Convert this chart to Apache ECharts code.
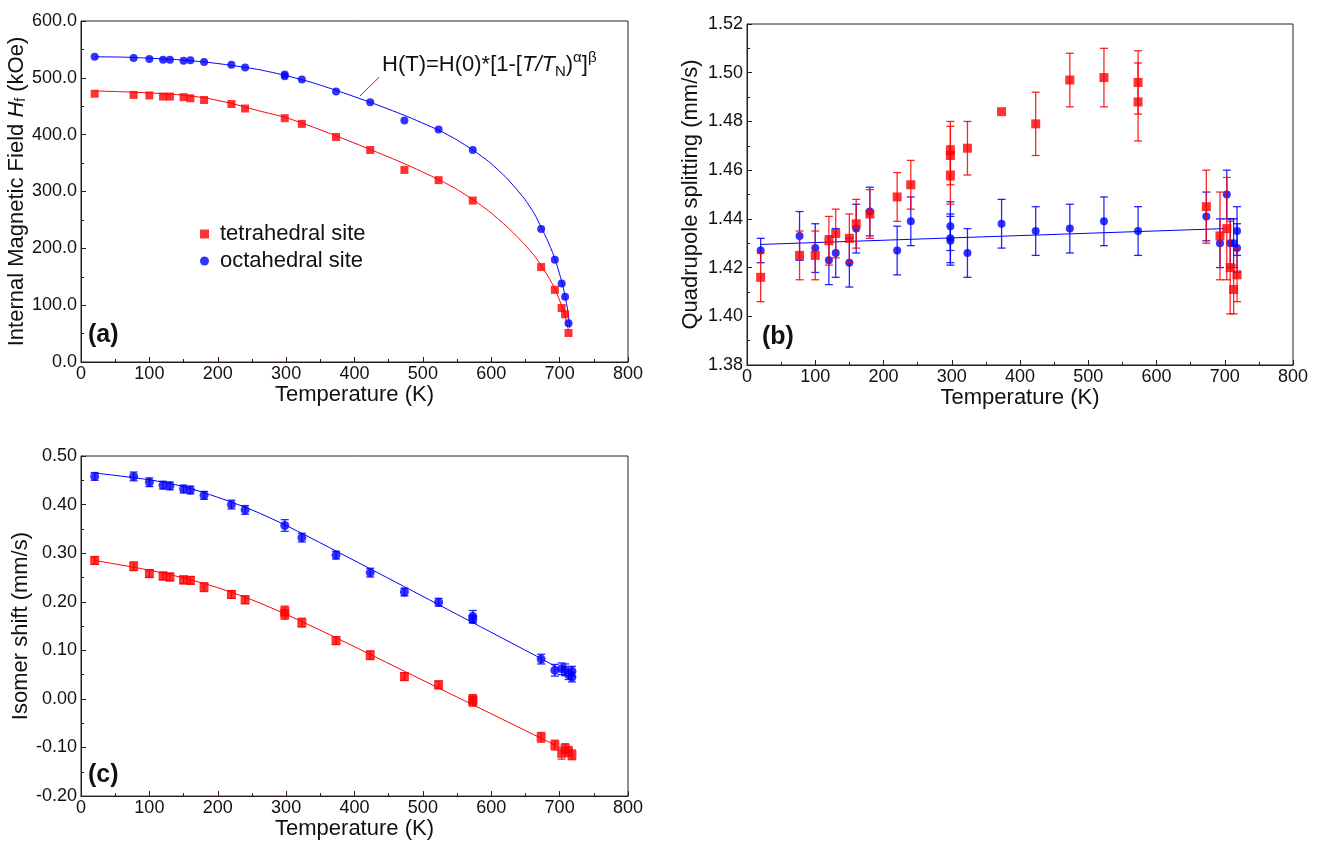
<!DOCTYPE html>
<html>
<head>
<meta charset="utf-8">
<script src="https://cdn.jsdelivr.net/npm/echarts@6.0.0/dist/echarts.min.js"></script>
<style>
  html, body { margin: 0; padding: 0; background: #fff; }
  #chart { width: 1318px; height: 841px; }
</style>
</head>
<body>
<div id="chart"></div>
<script>
// ---------- (a) internal magnetic field vs temperature (kOe) ----------
const hfTempTet = [20, 77, 100, 120, 130, 150, 160, 180, 220, 240, 298, 323, 373, 423, 473, 523, 573, 673, 693, 703, 708, 713];
const hfTet     = [472, 470, 469, 467, 467, 466, 464, 461, 454, 446, 429, 419, 396, 373, 338, 320, 284, 167, 127, 95, 84, 51];
const hfTempOct = [20, 77, 100, 120, 130, 150, 160, 180, 220, 240, 298, 298, 323, 373, 423, 473, 523, 573, 673, 693, 703, 708, 713];
const hfOct     = [537, 535, 533, 532, 532, 530, 531, 528, 523, 518, 503, 506, 497, 476, 457, 425, 409, 373, 234, 180, 138, 115, 68];

// fitted H(T) curves
const hfFitTempTet = [20, 60, 100, 140, 180, 220, 260, 300, 340, 373, 423, 473, 523, 548, 573, 598, 623, 648, 663, 673, 683, 693, 703, 708, 713];
const hfFitTet     = [477, 475.5, 473.5, 470.5, 465, 455, 442, 430, 413, 398, 374, 349, 321, 305, 286, 264, 238, 208, 187, 170, 151, 129, 99, 81, 56];
const hfFitTempOct = [20, 60, 100, 140, 180, 220, 260, 300, 340, 373, 423, 473, 523, 548, 573, 598, 623, 648, 663, 673, 683, 693, 703, 708, 712, 715];
const hfFitOct     = [537, 536.5, 534.5, 532, 528, 522, 514.5, 504, 491, 478, 457, 434, 408, 392, 373, 351, 323, 288, 261, 237, 212, 182, 142, 116, 90, 60];

// ---------- (b) quadrupole splitting (mm/s) with errors ----------
const qsTempTet = [20, 77, 100, 120, 130, 150, 160, 180, 220, 240, 298, 298, 298, 323, 373, 423, 473, 523, 573, 573, 673, 693, 703, 708, 713, 718];
const qsTet     = [1.416, 1.425, 1.425, 1.431, 1.434, 1.432, 1.438, 1.442, 1.449, 1.454, 1.458, 1.466, 1.468, 1.469, 1.484, 1.479, 1.497, 1.498, 1.496, 1.488, 1.445, 1.433, 1.436, 1.420, 1.411, 1.417];
const qsTetErr  = [0.010, 0.010, 0.010, 0.010, 0.010, 0.010, 0.010, 0.010, 0.010, 0.010, 0.012, 0.012, 0.012, 0.011, 0, 0.013, 0.011, 0.012, 0.013, 0.016, 0.015, 0.018, 0.021, 0.019, 0.010, 0.011];
const qsTempOct = [20, 77, 100, 120, 130, 150, 160, 180, 220, 240, 298, 298, 298, 323, 373, 423, 473, 523, 573, 673, 693, 703, 708, 713, 718, 718];
const qsOct     = [1.427, 1.433, 1.428, 1.423, 1.426, 1.422, 1.436, 1.443, 1.427, 1.439, 1.437, 1.432, 1.431, 1.426, 1.438, 1.435, 1.436, 1.439, 1.435, 1.441, 1.430, 1.450, 1.430, 1.430, 1.435, 1.428];
const qsOctErr  = [0.005, 0.010, 0.010, 0.010, 0.010, 0.010, 0.010, 0.010, 0.010, 0.010, 0.010, 0.010, 0.010, 0.010, 0.010, 0.010, 0.010, 0.010, 0.010, 0.010, 0.010, 0.010, 0.010, 0.010, 0.010, 0.010];
// linear fit of the octahedral splitting
const qsFitTempOct = [20, 700];
const qsFitOct     = [1.4295, 1.436];

// ---------- (c) isomer shift (mm/s) with errors ----------
const isTempTet = [20, 77, 100, 120, 130, 150, 160, 180, 220, 240, 298, 298, 323, 373, 423, 473, 523, 573, 573, 673, 693, 703, 708, 713, 718];
const isTet     = [0.285, 0.273, 0.258, 0.253, 0.251, 0.245, 0.244, 0.230, 0.215, 0.204, 0.181, 0.174, 0.157, 0.120, 0.090, 0.046, 0.029, -0.005, -0.001, -0.079, -0.095, -0.112, -0.102, -0.108, -0.115];
const isTetErr  = [0.008, 0.009, 0.008, 0.008, 0.008, 0.008, 0.008, 0.009, 0.008, 0.008, 0.010, 0.010, 0.009, 0.008, 0.009, 0.008, 0.008, 0.010, 0.010, 0.010, 0.010, 0.012, 0.010, 0.010, 0.010];
const isTempOct = [20, 77, 100, 120, 130, 150, 160, 180, 220, 240, 298, 323, 373, 423, 473, 523, 573, 573, 673, 693, 703, 708, 713, 718, 718];
const isOct     = [0.458, 0.458, 0.446, 0.440, 0.4385, 0.432, 0.430, 0.419, 0.400, 0.389, 0.357, 0.332, 0.296, 0.260, 0.220, 0.199, 0.170, 0.164, 0.082, 0.059, 0.062, 0.060, 0.050, 0.057, 0.045];
const isOctErr  = [0.008, 0.009, 0.009, 0.008, 0.008, 0.008, 0.008, 0.008, 0.009, 0.009, 0.012, 0.009, 0.008, 0.009, 0.008, 0.008, 0.012, 0.008, 0.010, 0.012, 0.012, 0.012, 0.010, 0.010, 0.010];
// fitted isomer shift curves
const isFitTemp = [20, 100, 150, 200, 250, 300, 364, 473, 573, 673, 695];
const isFitTet  = [0.285, 0.265, 0.249, 0.229, 0.204, 0.174, 0.132, 0.057, -0.012, -0.081, -0.096];
const isFitOct  = [0.465, 0.451, 0.437, 0.415, 0.389, 0.357, 0.311, 0.231, 0.157, 0.083, 0.066];

// axis ranges
const tempRange = { min: 0, max: 800, step: 100 };
const hfRange   = { min: 0, max: 600, step: 100 };
const qsRange   = { min: 1.38, max: 1.52, step: 0.02 };
const isRange   = { min: -0.2, max: 0.5, step: 0.1 };

const RED = '#ff0000';
const BLUE = '#0000ff';
const FONT = "'Liberation Sans', Arial, Helvetica, sans-serif";
const INK = '#111';

const zip = (xs, ys) => xs.map((x, i) => [x, ys[i]]);
const zip3 = (xs, ys, es) => xs.map((x, i) => [x, ys[i], es[i]]);

function errorBar(params, api) {
  const x = api.value(0), y = api.value(1), e = api.value(2);
  if (!e) return null;
  const hi = api.coord([x, y + e]);
  const lo = api.coord([x, y - e]);
  const cap = 4;
  const style = { stroke: api.visual('color'), lineWidth: 1.3, opacity: 0.85 };
  return {
    type: 'group',
    children: [
      { type: 'line', shape: { x1: hi[0], y1: hi[1], x2: lo[0], y2: lo[1] }, style },
      { type: 'line', shape: { x1: hi[0] - cap, y1: hi[1], x2: hi[0] + cap, y2: hi[1] }, style },
      { type: 'line', shape: { x1: lo[0] - cap, y1: lo[1], x2: lo[0] + cap, y2: lo[1] }, style }
    ]
  };
}

function xAxisFor(gridIndex) {
  return {
    type: 'value', gridIndex,
    min: tempRange.min, max: tempRange.max, interval: tempRange.step,
    name: 'Temperature (K)', nameLocation: 'middle', nameGap: 21,
    nameTextStyle: { fontFamily: FONT, fontSize: 22, color: INK },
    axisLine: { onZero: false, lineStyle: { color: '#2b1b17', width: 1 } },
    axisTick: { inside: true, length: 5, lineStyle: { color: '#2b1b17' } },
    minorTick: { show: true, splitNumber: 2, length: 3, lineStyle: { color: '#2b1b17' } },
    axisLabel: { fontFamily: FONT, fontSize: 18, color: INK, margin: 3 },
    splitLine: { show: false }
  };
}

function yAxisFor(gridIndex, range, decimals, name, gap, rich) {
  return {
    type: 'value', gridIndex,
    min: range.min, max: range.max, interval: range.step,
    name, nameLocation: 'middle', nameGap: gap,
    nameTextStyle: { fontFamily: FONT, fontSize: 22, color: INK, rich: rich || {} },
    axisLine: { onZero: false, lineStyle: { color: '#2b1b17', width: 1 } },
    axisTick: { inside: true, length: 5, lineStyle: { color: '#2b1b17' } },
    minorTick: { show: true, splitNumber: 2, length: 3, lineStyle: { color: '#2b1b17' } },
    axisLabel: {
      fontFamily: FONT, fontSize: 18, color: INK, margin: 4,
      formatter: v => Number(v).toFixed(decimals)
    },
    splitLine: { show: false }
  };
}

const chart = echarts.init(document.getElementById('chart'), null, { renderer: 'canvas' });

const fitLine = (xi, data, color, smooth) => ({
  type: 'line', xAxisIndex: xi, yAxisIndex: xi,
  data, smooth: smooth, symbol: 'none',
  lineStyle: { color, width: 1 }, z: 2, silent: true
});

const option = {
  animation: false,
  backgroundColor: '#fff',
  grid: [
    { left: 81, top: 21, width: 547, height: 341, show: true, borderColor: '#222', borderWidth: 1 },
    { left: 747, top: 24, width: 546, height: 341, show: true, borderColor: '#222', borderWidth: 1 },
    { left: 81, top: 456, width: 547, height: 342, show: true, borderColor: '#222', borderWidth: 1 }
  ],
  xAxis: [xAxisFor(0), xAxisFor(1), xAxisFor(2)],
  yAxis: [
    yAxisFor(0, hfRange, 1, 'Internal Magnetic Field {i|H}{sub|f} (kOe)', 47, {
      i: { fontFamily: FONT, fontSize: 22, fontStyle: 'italic', color: INK },
      sub: { fontFamily: FONT, fontSize: 14, color: INK, verticalAlign: 'bottom' }
    }),
    yAxisFor(1, qsRange, 2, 'Quadrupole splitting (mm/s)', 45),
    yAxisFor(2, isRange, 2, 'Isomer shift (mm/s)', 48)
  ],
  legend: {
    orient: 'vertical', left: 195, top: 218,
    itemWidth: 9, itemHeight: 9, itemGap: 5,
    textStyle: { fontFamily: FONT, fontSize: 22, color: INK, padding: [0, 0, 0, 6] },
    data: [
      { name: 'tetrahedral site', icon: 'rect' },
      { name: 'octahedral site', icon: 'circle' }
    ]
  },
  graphic: [
    { type: 'text', left: 88, top: 323, style: { text: '(a)', font: 'bold 25px ' + FONT, fill: INK } },
    { type: 'text', left: 762, top: 325, style: { text: '(b)', font: 'bold 25px ' + FONT, fill: INK } },
    { type: 'text', left: 88, top: 763, style: { text: '(c)', font: 'bold 25px ' + FONT, fill: INK } },
    {
      type: 'text', left: 382, top: 50,
      style: {
        text: '{n|H(T)=H(0)*[1-[}{i|T/T}{sub|N}{n|)}{sup|α}{n|]}{sup|β}',
        rich: {
          n: { fontFamily: FONT, fontSize: 22, fill: INK, lineHeight: 29 },
          i: { fontFamily: FONT, fontSize: 22, fontStyle: 'italic', fill: INK, lineHeight: 29 },
          sub: { fontFamily: FONT, fontSize: 15, fill: INK, verticalAlign: 'bottom', lineHeight: 29 },
          sup: { fontFamily: FONT, fontSize: 15, fill: INK, verticalAlign: 'top', lineHeight: 29 }
        }
      }
    }
  ],
  series: [
    // ----- (a) -----
    Object.assign(fitLine(0, zip(hfFitTempTet, hfFitTet), RED, 0.2), { name: 'fit-a-tet' }),
    Object.assign(fitLine(0, zip(hfFitTempOct, hfFitOct), BLUE, 0.2), {
      name: 'fit-a-oct',
      markLine: {
        silent: true, symbol: 'none', label: { show: false },
        lineStyle: { color: RED, width: 1, type: 'solid' },
        data: [[{ coord: [408, 468] }, { coord: [436, 501] }]]
      }
    }),
    {
      type: 'scatter', xAxisIndex: 0, yAxisIndex: 0, name: 'tetrahedral site',
      data: zip(hfTempTet, hfTet), symbol: 'rect', symbolSize: 8,
      itemStyle: { color: RED }, z: 4
    },
    {
      type: 'scatter', xAxisIndex: 0, yAxisIndex: 0, name: 'octahedral site',
      data: zip(hfTempOct, hfOct), symbol: 'circle', symbolSize: 8,
      itemStyle: { color: BLUE }, z: 5
    },
    // ----- (b) -----
    Object.assign(fitLine(1, zip(qsFitTempOct, qsFitOct), BLUE, false), { name: 'fit-b-oct' }),
    {
      type: 'custom', xAxisIndex: 1, yAxisIndex: 1, name: 'err-b-oct',
      data: zip3(qsTempOct, qsOct, qsOctErr), renderItem: errorBar,
      encode: { x: 0, y: 1 }, itemStyle: { color: BLUE }, z: 3
    },
    {
      type: 'scatter', xAxisIndex: 1, yAxisIndex: 1, name: 'qs-oct',
      data: zip(qsTempOct, qsOct), symbol: 'circle', symbolSize: 8,
      itemStyle: { color: BLUE }, z: 4
    },
    {
      type: 'custom', xAxisIndex: 1, yAxisIndex: 1, name: 'err-b-tet',
      data: zip3(qsTempTet, qsTet, qsTetErr), renderItem: errorBar,
      encode: { x: 0, y: 1 }, itemStyle: { color: RED }, z: 5
    },
    {
      type: 'scatter', xAxisIndex: 1, yAxisIndex: 1, name: 'qs-tet',
      data: zip(qsTempTet, qsTet), symbol: 'rect', symbolSize: 9,
      itemStyle: { color: RED }, z: 6
    },
    // ----- (c) -----
    Object.assign(fitLine(2, zip(isFitTemp, isFitTet), RED, 0.3), { name: 'fit-c-tet' }),
    Object.assign(fitLine(2, zip(isFitTemp, isFitOct), BLUE, 0.3), { name: 'fit-c-oct' }),
    {
      type: 'custom', xAxisIndex: 2, yAxisIndex: 2, name: 'err-c-tet',
      data: zip3(isTempTet, isTet, isTetErr), renderItem: errorBar,
      encode: { x: 0, y: 1 }, itemStyle: { color: RED }, z: 3
    },
    {
      type: 'scatter', xAxisIndex: 2, yAxisIndex: 2, name: 'is-tet',
      data: zip(isTempTet, isTet), symbol: 'rect', symbolSize: 9,
      itemStyle: { color: RED }, z: 4
    },
    {
      type: 'custom', xAxisIndex: 2, yAxisIndex: 2, name: 'err-c-oct',
      data: zip3(isTempOct, isOct, isOctErr), renderItem: errorBar,
      encode: { x: 0, y: 1 }, itemStyle: { color: BLUE }, z: 3
    },
    {
      type: 'scatter', xAxisIndex: 2, yAxisIndex: 2, name: 'is-oct',
      data: zip(isTempOct, isOct), symbol: 'circle', symbolSize: 9,
      itemStyle: { color: BLUE }, z: 4
    }
  ]
};

chart.setOption(option);
</script>
</body>
</html>
